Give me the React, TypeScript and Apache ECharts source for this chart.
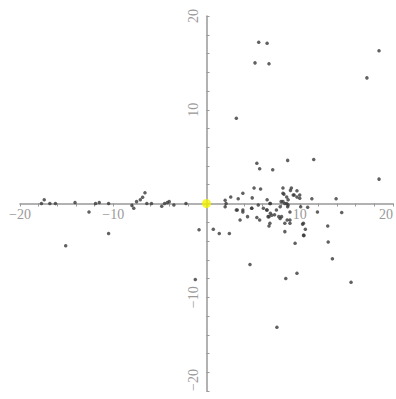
import React, { useEffect, useRef } from "react";
import * as echarts from "echarts";

// Scatter points: x values and y values
const pointsX: number[] = [
  // left side, along the axis
  -17.7, -17.4, -16.8, -16.2, -14.1, -12.6, -11.9, -11.5, -10.5, -8.0, -7.8, -7.5, -7.1, -6.85, -6.6, -6.4,
  -5.9, -4.8, -4.5, -4.2, -4.0, -3.5, -2.2, -15.1, -10.5, -0.8, -1.2,
  // right side, upper
  5.6, 6.5, 5.2, 6.7, 18.5, 17.2, 3.2, 5.4, 8.7, 11.5, 5.7, 7.1, 18.5, 5.1, 5.8, 8.2, 9.1, 3.9, 2.6, 3.4,
  4.9, 9.7, 10.0, 8.3, 9.4, 11.3, 13.9,
  // right side, near the axis
  2.0, 2.0, 2.1, 3.2, 3.9, 4.85, 3.6, 4.4, 5.4, 5.7, 6.45, 6.8, 6.6, 7.5, 7.3, 7.9, 8.2, 8.6, 8.05, 8.65, 6.8,
  8.6, 8.7, 8.95, 10.1, 10.85, 11.9, 14.5, 8.95, 10.4, 13.0, 6.5, 6.85, 6.5, 6.85, 8.0, 8.4, 8.75, 8.75, 9.3,
  9.7, 10.0, 8.2, 9.0, 5.55, 6.1, 4.85, 3.3, 3.9, 6.7, 7.0, 7.75, 7.9, 8.4, 8.95, 10.3,
  // right side, lower
  0.73, 1.37, 2.45, 4.66, 8.4, 9.5, 10.45, 10.6, 8.5, 9.7, 13.05, 13.5, 15.5, 7.55, 6.7, 10.4,
];
const pointsY: number[] = [
  0.0, 0.4, 0.0, 0.0, 0.1, -0.9, 0.0, 0.1, 0.0, -0.2, -0.5, 0.2, 0.4, 0.66, 1.15, 0.0,
  0.0, -0.3, 0.0, 0.1, 0.2, -0.15, 0.0, -4.5, -3.2, -2.8, -8.1,
  17.2, 17.1, 15.0, 14.9, 16.3, 13.4, 9.1, 4.3, 4.6, 4.7, 3.7, 3.6, 2.6, 1.65, 1.55, 1.65, 1.65, 1.1, 0.7, 0.5,
  0.6, 1.35, 0.9, 1.0, 0.9, 0.5, 0.5,
  0.35, -0.35, 0.0, -0.7, -0.7, -0.5, -1.75, -1.4, -1.5, -1.75, -0.7, 0.0, -1.4, -0.7, -1.2, -0.35, 0.2, 0.0, -1.4, -1.75, -2.1,
  0.7, -0.35, -0.9, -0.35, -0.4, -0.9, -0.95, -1.75, -2.1, -2.4, 0.4, 0.0, -0.7, -1.05, 0.2, 0.0, -0.15, 0.4, 0.9,
  0.7, 0.55, 1.1, 1.4, -0.15, -0.5, -0.5, -0.7, -0.9, -1.4, -1.25, -1.4, -1.6, -2.1, -2.1, -2.2,
  -2.75, -3.2, -3.2, -6.5, -3.0, -4.25, -3.4, -2.75, -8.0, -7.45, -4.1, -5.9, -8.4, -13.2, -2.4, -3.4,
];
const originPoint: number[] = [0, 0];
const axisMin = -20;
const axisMax = 20;
const tickStep = 2;
const labelValues: number[] = [-20, -10, 10, 20];

export default function App() {
  const ref = useRef<HTMLDivElement>(null);
  useEffect(() => {
    if (!ref.current) return;
    const chart = echarts.init(ref.current, null, { renderer: "svg" });
    const data = pointsX.map((x, i) => [x, pointsY[i]]);
    const fmt = (v: number) =>
      labelValues.indexOf(v) >= 0 ? (v < 0 ? "\u2212" + Math.abs(v) : String(v)) : "";
    const labelStyle = {
      color: "#9a9a9a",
      fontFamily: "Liberation Serif",
      fontSize: 14,
      formatter: fmt,
      showMinLabel: true,
      showMaxLabel: true,
    };
    const W = 396;
    const H = 399;
    const left = 20;
    const right = 3;
    const top = 16;
    const bottom = 8;
    const gridW = W - left - right;
    const gridH = H - top - bottom;
    chart.setOption({
      animation: false,
      backgroundColor: "#ffffff",
      grid: {
        left,
        right,
        top,
        bottom,
        containLabel: false,
        outerBoundsMode: "none",
      },
      xAxis: {
        type: "value",
        min: axisMin,
        max: axisMax,
        interval: tickStep,
        position: "bottom",
        offset: -gridH / 2,
        axisLine: { onZero: false, lineStyle: { color: "#999", width: 1.5 } },
        axisTick: { show: true, length: 3, lineStyle: { color: "#999" } },
        axisLabel: { ...labelStyle, margin: 4, alignMaxLabel: "right" },
        splitLine: { show: false },
      },
      yAxis: {
        type: "value",
        min: axisMin,
        max: axisMax,
        interval: tickStep,
        position: "left",
        offset: -gridW / 2,
        axisLine: { onZero: false, lineStyle: { color: "#999", width: 1.5 } },
        axisTick: { show: true, inside: true, length: 3, lineStyle: { color: "#999" } },
        axisLabel: { ...labelStyle, rotate: 90, margin: 6, alignMinLabel: "left" },
        splitLine: { show: false },
      },
      series: [
        {
          type: "scatter",
          data,
          symbol: "circle",
          symbolSize: 3.5,
          itemStyle: { color: "#3a3a3a" },
          z: 2,
        },
        {
          type: "scatter",
          data: [originPoint],
          symbol: "circle",
          symbolSize: 9,
          itemStyle: { color: "#f2f200" },
          z: 3,
        },
      ],
    });
    return () => chart.dispose();
  }, []);
  return (
    <div
      ref={ref}
      style={{ position: "fixed", left: 0, top: 0, width: 396, height: 399, background: "#fff" }}
    />
  );
}
